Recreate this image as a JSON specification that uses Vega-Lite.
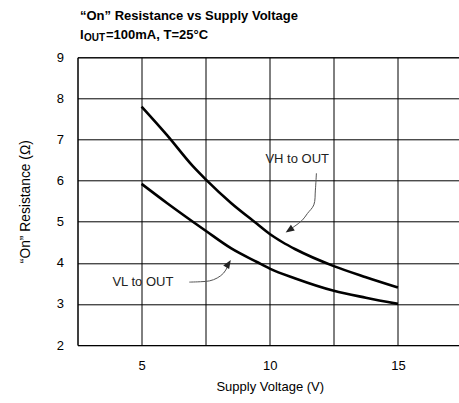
{
  "$schema": "https://vega.github.io/schema/vega-lite/v6.json",
  "width": 384.5,
  "height": 287.7,
  "autosize": {"type": "none"},
  "padding": {"left": 77.5, "top": 57.3, "right": 0, "bottom": 58},
  "background": "white",
  "config": {
    "view": {"stroke": "black", "strokeWidth": 1},
    "axis": {
      "grid": true,
      "gridColor": "black",
      "gridOpacity": 1,
      "gridWidth": 1,
      "ticks": false,
      "domain": false,
      "labelFont": "Liberation Sans",
      "labelFontSize": 13,
      "labelColor": "black",
      "titleFont": "Liberation Sans",
      "titleFontSize": 13,
      "titleFontWeight": "normal",
      "titleColor": "black"
    }
  },
  "datasets": {
    "curves": [
      {"series": "VH to OUT", "v": 5, "r": 7.8},
      {"series": "VH to OUT", "v": 6, "r": 7.1},
      {"series": "VH to OUT", "v": 7, "r": 6.35},
      {"series": "VH to OUT", "v": 7.5, "r": 6.03},
      {"series": "VH to OUT", "v": 8.5, "r": 5.45},
      {"series": "VH to OUT", "v": 9.5, "r": 4.95},
      {"series": "VH to OUT", "v": 10, "r": 4.7},
      {"series": "VH to OUT", "v": 10.5, "r": 4.5},
      {"series": "VH to OUT", "v": 11, "r": 4.33},
      {"series": "VH to OUT", "v": 12.5, "r": 3.92},
      {"series": "VH to OUT", "v": 13.75, "r": 3.65},
      {"series": "VH to OUT", "v": 15, "r": 3.4},
      {"series": "VL to OUT", "v": 5, "r": 5.92},
      {"series": "VL to OUT", "v": 6, "r": 5.45},
      {"series": "VL to OUT", "v": 7, "r": 5.0},
      {"series": "VL to OUT", "v": 7.5, "r": 4.78},
      {"series": "VL to OUT", "v": 8.5, "r": 4.35},
      {"series": "VL to OUT", "v": 9.5, "r": 4.02},
      {"series": "VL to OUT", "v": 10, "r": 3.86},
      {"series": "VL to OUT", "v": 11, "r": 3.62},
      {"series": "VL to OUT", "v": 12.5, "r": 3.32},
      {"series": "VL to OUT", "v": 13.75, "r": 3.15},
      {"series": "VL to OUT", "v": 15, "r": 3.0}
    ],
    "arrows": [
      {"arrow": "VH", "i": 0, "v": 11.82, "r": 6.18},
      {"arrow": "VH", "i": 1, "v": 11.78, "r": 5.77},
      {"arrow": "VH", "i": 2, "v": 11.72, "r": 5.41},
      {"arrow": "VH", "i": 3, "v": 11.47, "r": 5.2},
      {"arrow": "VH", "i": 4, "v": 11.26, "r": 5.03},
      {"arrow": "VH", "i": 5, "v": 10.95, "r": 4.88},
      {"arrow": "VH", "i": 6, "v": 10.7, "r": 4.77},
      {"arrow": "VL", "i": 0, "v": 6.86, "r": 3.53},
      {"arrow": "VL", "i": 1, "v": 7.3, "r": 3.54},
      {"arrow": "VL", "i": 2, "v": 7.65, "r": 3.56},
      {"arrow": "VL", "i": 3, "v": 7.95, "r": 3.63},
      {"arrow": "VL", "i": 4, "v": 8.2, "r": 3.75},
      {"arrow": "VL", "i": 5, "v": 8.35, "r": 3.9},
      {"arrow": "VL", "i": 6, "v": 8.44, "r": 4.02}
    ],
    "heads": [
      {"arrow": "VH", "v": 10.62, "r": 4.74, "angle": 236},
      {"arrow": "VL", "v": 8.48, "r": 4.07, "angle": 32}
    ],
    "labels": [
      {"label": "VH to OUT", "v": 11.07, "r": 6.53},
      {"label": "VL to OUT", "v": 5.05, "r": 3.54}
    ],
    "one": [{}]
  },
  "layer": [
    {
      "data": {"name": "curves"},
      "mark": {"type": "line", "interpolate": "monotone", "color": "black", "strokeWidth": 2.6},
      "encoding": {
        "x": {
          "field": "v", "type": "quantitative",
          "scale": {"domain": [2.5, 17.5], "nice": false, "zero": false},
          "axis": {
            "values": [2.5, 5, 7.5, 10, 12.5, 15, 17.5],
            "labelExpr": "datum.value % 5 === 0 ? datum.label : ''",
            "labelPadding": 14,
            "titlePadding": 8,
            "title": "Supply Voltage (V)"
          }
        },
        "y": {
          "field": "r", "type": "quantitative",
          "scale": {"domain": [2, 9], "nice": false, "zero": false},
          "axis": {
            "values": [2, 3, 4, 5, 6, 7, 8, 9],
            "labelPadding": 14,
            "titlePadding": 24,
            "titleFontSize": 13.8,
            "title": "“On” Resistance (Ω)"
          }
        },
        "detail": {"field": "series"}
      }
    },
    {
      "data": {"name": "arrows"},
      "mark": {"type": "line", "interpolate": "catmull-rom", "color": "#555555", "strokeWidth": 1},
      "encoding": {
        "x": {"field": "v", "type": "quantitative"},
        "y": {"field": "r", "type": "quantitative"},
        "detail": {"field": "arrow"},
        "order": {"field": "i", "type": "quantitative"}
      }
    },
    {
      "data": {"name": "heads"},
      "mark": {"type": "point", "shape": "M0,0L0.4,1L-0.4,1Z", "filled": true, "color": "#222222", "opacity": 1, "size": 300},
      "encoding": {
        "x": {"field": "v", "type": "quantitative"},
        "y": {"field": "r", "type": "quantitative"},
        "angle": {"field": "angle", "type": "quantitative", "scale": null}
      }
    },
    {
      "data": {"name": "labels"},
      "mark": {"type": "text", "font": "Liberation Sans", "fontSize": 13, "color": "#222222", "align": "center", "baseline": "middle"},
      "encoding": {
        "x": {"field": "v", "type": "quantitative"},
        "y": {"field": "r", "type": "quantitative"},
        "text": {"field": "label"}
      }
    },
    {
      "data": {"name": "one"},
      "mark": {"type": "text", "font": "Liberation Sans", "fontWeight": "bold", "fontSize": 13, "color": "black", "align": "left", "baseline": "alphabetic", "dx": 2.5, "dy": -37.3},
      "encoding": {
        "x": {"datum": 2.5},
        "y": {"datum": 9},
        "text": {"value": "“On” Resistance vs Supply Voltage"}
      }
    },
    {
      "data": {"name": "one"},
      "mark": {"type": "text", "font": "Liberation Sans", "fontWeight": "bold", "fontSize": 13, "color": "black", "align": "left", "baseline": "alphabetic", "dx": 2.5, "dy": -18.3},
      "encoding": {
        "x": {"datum": 2.5},
        "y": {"datum": 9},
        "text": {"value": "I"}
      }
    },
    {
      "data": {"name": "one"},
      "mark": {"type": "text", "font": "Liberation Sans", "fontWeight": "bold", "fontSize": 10, "color": "black", "align": "left", "baseline": "alphabetic", "dx": 6.5, "dy": -16},
      "encoding": {
        "x": {"datum": 2.5},
        "y": {"datum": 9},
        "text": {"value": "OUT"}
      }
    },
    {
      "data": {"name": "one"},
      "mark": {"type": "text", "font": "Liberation Sans", "fontWeight": "bold", "fontSize": 13, "color": "black", "align": "left", "baseline": "alphabetic", "dx": 28.5, "dy": -18.3},
      "encoding": {
        "x": {"datum": 2.5},
        "y": {"datum": 9},
        "text": {"value": "=100mA, T=25°C"}
      }
    }
  ]
}
